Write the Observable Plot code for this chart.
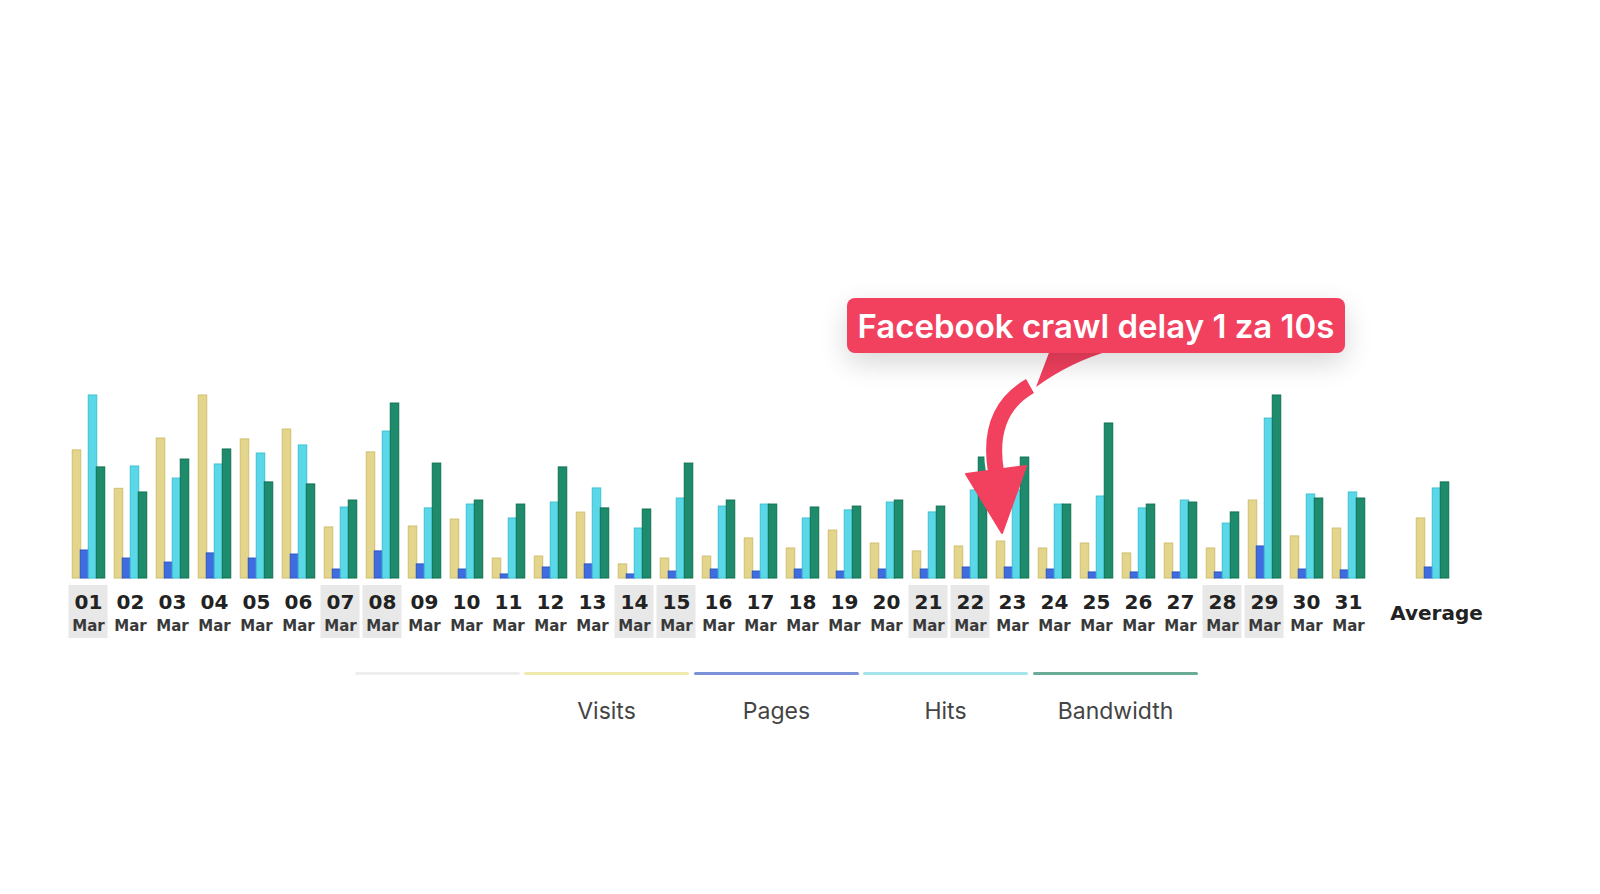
<!DOCTYPE html>
<html>
<head>
<meta charset="utf-8">
<script src="https://cdn.jsdelivr.net/npm/d3@7"></script>
<script src="https://cdn.jsdelivr.net/npm/@observablehq/plot@0.6"></script>
<style>
  html, body { margin: 0; padding: 0; background: #fff; }
  body { width: 1600px; height: 894px; position: relative; overflow: hidden; font-family: Inter, "Noto Sans", sans-serif; }
  #chart { position: absolute; left: 0; top: 0; }
  #overlay { position: absolute; left: 0; top: 0; pointer-events: none; }
  .callout { position: absolute; left: 847px; top: 298px; width: 498px; height: 55px; background: #f2405f;
    border-radius: 8px; box-shadow: 0 10px 28px rgba(0,0,0,0.16); color: #fff; font-family: Inter, sans-serif;
    font-weight: 600; font-size: 33px; display: flex; align-items: center; justify-content: center; white-space: nowrap; }
  .legend { position: absolute; left: 0; top: 0; width: 1600px; height: 894px; pointer-events: none; }
  .seg { position: absolute; top: 672px; height: 3px; width: 165px; border-radius: 2px; }
  .lab { position: absolute; top: 697px; width: 165px; text-align: center; font-size: 23px; color: #444; font-family: Inter, sans-serif; }
</style>
</head>
<body>
<div id="chart"></div>
<svg id="overlay" width="1600" height="894"></svg>
<div class="callout">Facebook crawl delay 1 za 10s</div>
<div class="legend" id="legend"></div>
<script>
// ---- data (relative heights, % of each series' scale maximum) ----
const days = ["01","02","03","04","05","06","07","08","09","10","11","12","13","14","15","16",
              "17","18","19","20","21","22","23","24","25","26","27","28","29","30","31"];
const month = "Mar";
const weekendDays = ["01","07","08","14","15","21","22","28","29"];
const seriesNames = ["Visits","Pages","Hits","Bandwidth"];
const visits    = [70,49,76.5,100,76,81.4,27.9,68.9,28.4,32.2,10.9,12,36,7.7,10.9,12,21.9,16.4,26.2,19.1,14.8,17.5,20.2,16.4,19.1,13.7,19.1,16.4,42.6,23,27.3];
const pages     = [15.3,10.9,8.7,13.7,10.9,13.1,4.9,14.8,7.7,4.9,2.2,6,7.7,2.2,3.8,4.9,3.8,4.9,3.8,4.9,4.9,6,6,4.9,3.3,3.3,3.3,3.3,17.5,4.9,4.4];
const hits      = [100,61.2,54.6,62.3,68.3,72.7,38.8,80.3,38.3,40.4,32.8,41.5,49.2,27.3,43.7,39.3,40.4,32.8,37.2,41.5,36.1,48.1,48.1,40.4,44.8,38.3,42.6,30,87.4,45.9,47];
const bandwidth = [60.7,47,65,70.5,52.5,51.4,42.6,95.6,62.8,42.6,40.4,60.7,38.3,37.7,62.8,42.6,40.4,38.8,39.3,42.6,39.3,66.1,66.1,40.4,84.7,40.4,41.5,36.1,100,43.7,43.7];
const averageLabel = "Average";
const averageValues = [32.8, 6, 49.2, 52.5];
const legendNames = ["", "Visits", "Pages", "Hits", "Bandwidth"];

// ---- styles ----
const fills   = ["#e3d58c", "#3f6de0", "#5ad8e8", "#1e8c6c"];
const strokes = ["#cfc070", "#2e55c4", "#3fc0d2", "#10704f"];
const legendColors = ["#eeeeee", "#f1eaae", "#7b92d8", "#a6e4ec", "#6aac97"];

const slots = [...days, " ", averageLabel];
const seriesValues = [visits, pages, hits, bandwidth];
const rows = [];
days.forEach((d, i) => seriesNames.forEach((s, k) => rows.push({slot: d, series: s, value: seriesValues[k][i]})));
seriesNames.forEach((s, k) => rows.push({slot: averageLabel, series: s, value: averageValues[k]}));

const barMarks = seriesNames.map((s, k) =>
  Plot.barY(rows.filter(r => r.series === s), {
    fx: "slot", x: "series", y: "value",
    fill: fills[k], stroke: strokes[k], strokeWidth: 1, insetLeft: 0.25, insetRight: -0.75
  })
);

const chart = Plot.plot({
  width: 1600,
  height: 650,
  marginLeft: 67, marginRight: 147, marginTop: 0, marginBottom: 0,
  style: { background: "transparent", fontFamily: "'DejaVu Sans', Verdana, sans-serif" },
  fx: { domain: slots, paddingInner: 0.24, paddingOuter: 0.12, axis: null, label: null },
  x: { domain: seriesNames, padding: 0, axis: null },
  y: { domain: [0, 100], range: [578, 395], axis: null },
  marks: [
    Plot.rect(weekendDays, { fx: d => d, fill: "#e8e8e8", insetTop: 585, insetBottom: 12, insetLeft: -3.5, insetRight: -3.5 }),
    ...barMarks,
    Plot.text(days, { fx: d => d, text: d => d, frameAnchor: "top", dy: 594, fontSize: 20, fontWeight: "bold", fill: "#222" }),
    Plot.text(days, { fx: d => d, text: () => month, frameAnchor: "top", dy: 620, fontSize: 15, fontWeight: "bold", fill: "#3a3a3a" }),
    Plot.text([averageLabel], { fx: d => d, text: d => d, frameAnchor: "top", dy: 605, dx: 4, fontSize: 20, fontWeight: "bold", fill: "#222" })
  ]
});
document.getElementById("chart").appendChild(chart);

// ---- legend ----
const legend = document.getElementById("legend");
const segLeft = [355, 524, 694, 863, 1033];
legendNames.forEach((name, i) => {
  const seg = document.createElement("div");
  seg.className = "seg";
  seg.style.left = segLeft[i] + "px";
  seg.style.background = legendColors[i];
  legend.appendChild(seg);
  if (name) {
    const lab = document.createElement("div");
    lab.className = "lab";
    lab.style.left = segLeft[i] + "px";
    lab.textContent = name;
    legend.appendChild(lab);
  }
});

// ---- annotation arrow ----
const ov = d3.select("#overlay");
const red = "#f2405f";
ov.append("path").attr("d", "M1050 350 L1112 350 Q1070 362 1036 387 Z").attr("fill", red);
ov.append("path").attr("d", "M1030 386 C1002 402, 989 430, 996 472")
  .attr("fill", "none").attr("stroke", "#fff").attr("stroke-width", 20);
ov.append("path").attr("d", "M1030 386 C1002 402, 989 430, 996 472")
  .attr("fill", "none").attr("stroke", red).attr("stroke-width", 16);
ov.append("path").attr("d", "M966 474 L1026 466 L1002 533 Z").attr("fill", red).attr("stroke", red).attr("stroke-width", 2).attr("stroke-linejoin", "round");
</script>
</body>
</html>
